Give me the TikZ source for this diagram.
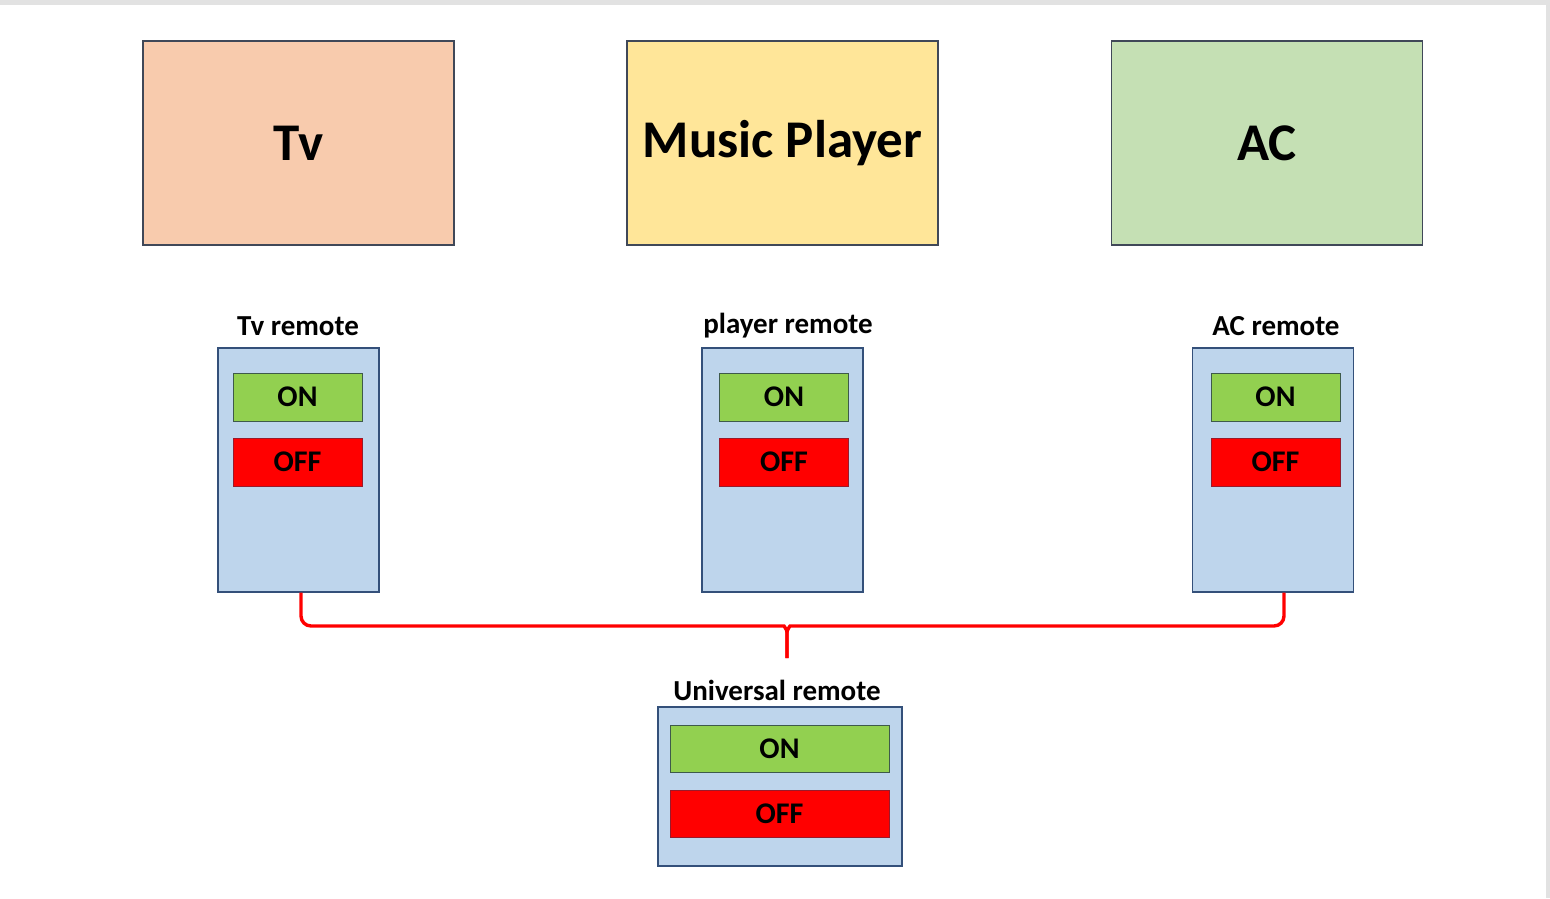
\documentclass[tikz,border=0pt]{standalone}
\usepackage{fontspec}
\setmainfont{Carlito}
\definecolor{tvfill}{HTML}{F8CBAD}
\definecolor{mpfill}{HTML}{FFE699}
\definecolor{acfill}{HTML}{C5E0B4}
\definecolor{remfill}{HTML}{BED5EC}
\definecolor{remedge}{HTML}{34507A}
\definecolor{boxedge}{HTML}{404858}
\definecolor{onfill}{HTML}{92D050}
\definecolor{onedge}{HTML}{3E5A4A}
\definecolor{offfill}{HTML}{FF0000}
\definecolor{offedge}{HTML}{9A1A2A}
\definecolor{frame}{HTML}{E2E2E2}
\definecolor{linkred}{HTML}{FF0000}
\tikzset{
  device/.style={draw=boxedge, line width=1.2pt, minimum width=311pt, minimum height=204pt, inner sep=0pt, font=\fontsize{53}{60}\selectfont\bfseries},
  remote/.style={draw=remedge, fill=remfill, line width=1.2pt, minimum width=161pt, minimum height=244pt, inner sep=0pt},
  onbtn/.style={draw=onedge, fill=onfill, line width=1pt, minimum width=129pt, minimum height=48pt, inner sep=0pt, font=\fontsize{30}{34}\selectfont\bfseries},
  offbtn/.style={draw=offedge, fill=offfill, line width=1pt, minimum width=129pt, minimum height=48pt, inner sep=0pt, font=\fontsize{30}{34}\selectfont\bfseries},
  lbl/.style={inner sep=0pt, font=\fontsize{29}{34}\selectfont\bfseries},
  link/.style={draw=linkred, line width=3.4pt},
}
\begin{document}
\begin{tikzpicture}[x=1pt,y=-1pt]
\useasboundingbox (0,0) rectangle (1550,898);
\fill[white] (0,0) rectangle (1550,898);
\fill[frame] (0,0) rectangle (1550,5);
\fill[frame] (1546,0) rectangle (1550,898);
% devices
\node[device, fill=tvfill] (tv) at (298.5,143) {Tv};
\node[device, fill=mpfill] (mp) at (782.5,143) {Music Player};
\node[device, fill=acfill] (ac) at (1267,143) {AC};
% remotes
\node[remote] (tvr) at (298.5,470) {};
\node[remote] (mpr) at (782.5,470) {};
\node[remote] (acr) at (1273,470) {};
\node[lbl] (tvrl) at (298,326) {Tv remote};
\node[lbl] (mprl) at (788,326) {player remote};
\node[lbl] (acrl) at (1276,326) {AC remote};
\node[onbtn] (tvon) at (297.5,397) {ON};
\node[offbtn] (tvoff) at (297.5,462) {OFF};
\node[onbtn] (mpon) at (784,397) {ON};
\node[offbtn] (mpoff) at (784,462) {OFF};
\node[onbtn] (acon) at (1275.5,397) {ON};
\node[offbtn] (acoff) at (1275.5,462) {OFF};
% universal remote
\node[remote, minimum width=244pt, minimum height=159pt] (ur) at (780,786.5) {};
\node[lbl] (url) at (777,690) {Universal remote};
\node[onbtn, minimum width=219pt, minimum height=47pt] (uron) at (779.5,748.5) {ON};
\node[offbtn, minimum width=219pt, minimum height=47pt] (uroff) at (779.5,813.5) {OFF};
% brace connector
\coordinate (tip) at (787,658);
\coordinate (acs) at ([xshift=11pt]acr.south);
\coordinate (tvs) at ([xshift=2.5pt]tvr.south);
\draw[link, rounded corners=10pt] (tvs) |- (774,626) .. controls (784,626) and (787,630) .. (787,642) -- (tip);
\draw[link, rounded corners=10pt] (tip) -- (787,642) .. controls (787,630) and (790,626) .. (800,626) -| (acs);
\end{tikzpicture}
\end{document}
